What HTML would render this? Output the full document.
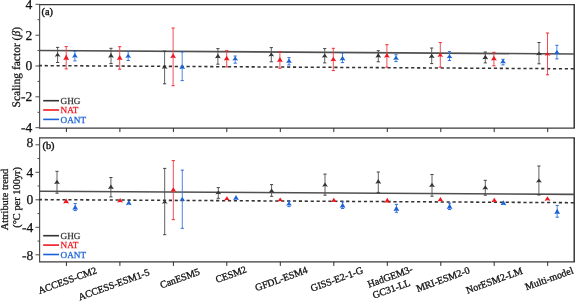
<!DOCTYPE html>
<html><head><meta charset="utf-8"><style>
html,body{margin:0;padding:0;background:#fff;overflow:hidden;}
svg{display:block;will-change:transform;}
text{text-rendering:geometricPrecision;font-family:"Liberation Serif",serif;fill:#111;stroke:#111;stroke-width:0.25px;}
.t{font-size:13.5px;}
.p{font-size:10.3px;stroke-width:0.4px;}
.lg{font-size:9.2px;stroke-width:0.25px;}
.yt{font-size:11.5px;}
.xl{font-size:10px;stroke-width:0.3px;}
.yt2{font-size:10.4px;}
</style></head><body>
<svg width="575" height="301" viewBox="0 0 575 301">
<rect width="575" height="301" fill="#fff"/>
<line x1="39.0" y1="4.6" x2="574.9000000000001" y2="4.6" stroke="#3a3a3a" stroke-width="1.3"/>
<line x1="39.0" y1="128.1" x2="574.9000000000001" y2="128.1" stroke="#3a3a3a" stroke-width="1.3"/>
<line x1="39.6" y1="4.6" x2="39.6" y2="128.1" stroke="#505050" stroke-width="1.2"/>
<line x1="574.2" y1="4.6" x2="574.2" y2="128.1" stroke="#2a2a2a" stroke-width="1.4"/>
<line x1="66.4" y1="128.1" x2="66.4" y2="132.1" stroke="#2a2a2a" stroke-width="1"/>
<line x1="119.9" y1="128.1" x2="119.9" y2="132.1" stroke="#2a2a2a" stroke-width="1"/>
<line x1="173.4" y1="128.1" x2="173.4" y2="132.1" stroke="#2a2a2a" stroke-width="1"/>
<line x1="226.8" y1="128.1" x2="226.8" y2="132.1" stroke="#2a2a2a" stroke-width="1"/>
<line x1="280.3" y1="128.1" x2="280.3" y2="132.1" stroke="#2a2a2a" stroke-width="1"/>
<line x1="333.8" y1="128.1" x2="333.8" y2="132.1" stroke="#2a2a2a" stroke-width="1"/>
<line x1="387.3" y1="128.1" x2="387.3" y2="132.1" stroke="#2a2a2a" stroke-width="1"/>
<line x1="440.8" y1="128.1" x2="440.8" y2="132.1" stroke="#2a2a2a" stroke-width="1"/>
<line x1="494.2" y1="128.1" x2="494.2" y2="132.1" stroke="#2a2a2a" stroke-width="1"/>
<line x1="547.7" y1="128.1" x2="547.7" y2="132.1" stroke="#2a2a2a" stroke-width="1"/>
<line x1="39.0" y1="137.8" x2="574.9000000000001" y2="137.8" stroke="#3a3a3a" stroke-width="1.3"/>
<line x1="39.0" y1="261.9" x2="574.9000000000001" y2="261.9" stroke="#3a3a3a" stroke-width="1.3"/>
<line x1="39.6" y1="137.8" x2="39.6" y2="261.9" stroke="#505050" stroke-width="1.2"/>
<line x1="574.2" y1="137.8" x2="574.2" y2="261.9" stroke="#2a2a2a" stroke-width="1.4"/>
<line x1="66.4" y1="261.9" x2="66.4" y2="265.9" stroke="#2a2a2a" stroke-width="1"/>
<line x1="119.9" y1="261.9" x2="119.9" y2="265.9" stroke="#2a2a2a" stroke-width="1"/>
<line x1="173.4" y1="261.9" x2="173.4" y2="265.9" stroke="#2a2a2a" stroke-width="1"/>
<line x1="226.8" y1="261.9" x2="226.8" y2="265.9" stroke="#2a2a2a" stroke-width="1"/>
<line x1="280.3" y1="261.9" x2="280.3" y2="265.9" stroke="#2a2a2a" stroke-width="1"/>
<line x1="333.8" y1="261.9" x2="333.8" y2="265.9" stroke="#2a2a2a" stroke-width="1"/>
<line x1="387.3" y1="261.9" x2="387.3" y2="265.9" stroke="#2a2a2a" stroke-width="1"/>
<line x1="440.8" y1="261.9" x2="440.8" y2="265.9" stroke="#2a2a2a" stroke-width="1"/>
<line x1="494.2" y1="261.9" x2="494.2" y2="265.9" stroke="#2a2a2a" stroke-width="1"/>
<line x1="547.7" y1="261.9" x2="547.7" y2="265.9" stroke="#2a2a2a" stroke-width="1"/>
<line x1="35.5" y1="4.3" x2="39.6" y2="4.3" stroke="#4d4d4d" stroke-width="1"/>
<line x1="35.5" y1="35.2" x2="39.6" y2="35.2" stroke="#4d4d4d" stroke-width="1"/>
<line x1="35.5" y1="66.0" x2="39.6" y2="66.0" stroke="#4d4d4d" stroke-width="1"/>
<line x1="35.5" y1="96.8" x2="39.6" y2="96.8" stroke="#4d4d4d" stroke-width="1"/>
<line x1="35.5" y1="127.7" x2="39.6" y2="127.7" stroke="#4d4d4d" stroke-width="1"/>
<line x1="37.5" y1="19.7" x2="39.6" y2="19.7" stroke="#4d4d4d" stroke-width="1"/>
<line x1="37.5" y1="50.6" x2="39.6" y2="50.6" stroke="#4d4d4d" stroke-width="1"/>
<line x1="37.5" y1="81.4" x2="39.6" y2="81.4" stroke="#4d4d4d" stroke-width="1"/>
<line x1="37.5" y1="112.3" x2="39.6" y2="112.3" stroke="#4d4d4d" stroke-width="1"/>
<line x1="35.5" y1="144.8" x2="39.6" y2="144.8" stroke="#4d4d4d" stroke-width="1"/>
<line x1="35.5" y1="172.3" x2="39.6" y2="172.3" stroke="#4d4d4d" stroke-width="1"/>
<line x1="35.5" y1="199.8" x2="39.6" y2="199.8" stroke="#4d4d4d" stroke-width="1"/>
<line x1="35.5" y1="227.3" x2="39.6" y2="227.3" stroke="#4d4d4d" stroke-width="1"/>
<line x1="35.5" y1="254.8" x2="39.6" y2="254.8" stroke="#4d4d4d" stroke-width="1"/>
<line x1="37.5" y1="158.5" x2="39.6" y2="158.5" stroke="#4d4d4d" stroke-width="1"/>
<line x1="37.5" y1="186.0" x2="39.6" y2="186.0" stroke="#4d4d4d" stroke-width="1"/>
<line x1="37.5" y1="213.6" x2="39.6" y2="213.6" stroke="#4d4d4d" stroke-width="1"/>
<line x1="37.5" y1="241.1" x2="39.6" y2="241.1" stroke="#4d4d4d" stroke-width="1"/>
<text x="32.3" y="8.6" text-anchor="end" class="t">4</text>
<text x="32.3" y="39.5" text-anchor="end" class="t">2</text>
<text x="32.3" y="70.3" text-anchor="end" class="t">0</text>
<text x="32.3" y="101.1" text-anchor="end" class="t">-2</text>
<text x="32.3" y="132.0" text-anchor="end" class="t">-4</text>
<text x="33.2" y="146.9" text-anchor="end" class="t">8</text>
<text x="33.2" y="176.6" text-anchor="end" class="t">4</text>
<text x="33.2" y="204.1" text-anchor="end" class="t">0</text>
<text x="33.2" y="232.3" text-anchor="end" class="t">-4</text>
<text x="33.2" y="259.7" text-anchor="end" class="t">-8</text>
<line x1="39.6" y1="50.5" x2="574.2" y2="54.0" stroke="#505050" stroke-width="1.6"/>
<line x1="38.8" y1="65.6" x2="574.2" y2="68.8" stroke="#333" stroke-width="1.55" stroke-dasharray="3.2 2.71"/>
<line x1="39.6" y1="191.3" x2="574.2" y2="194.4" stroke="#505050" stroke-width="1.6"/>
<line x1="38.8" y1="199.6" x2="574.2" y2="202.7" stroke="#333" stroke-width="1.55" stroke-dasharray="3.2 2.71"/>
<line x1="57.6" y1="47.4" x2="57.6" y2="62.5" stroke="#505050" stroke-width="0.9"/>
<line x1="56.0" y1="47.4" x2="59.2" y2="47.4" stroke="#333333" stroke-width="0.9"/>
<line x1="56.0" y1="62.5" x2="59.2" y2="62.5" stroke="#333333" stroke-width="0.9"/>
<path d="M57.6 52.5L60.5 56.7L57.6 56.1L54.7 56.7Z" fill="#333333"/>
<line x1="66.2" y1="46.6" x2="66.2" y2="68.9" stroke="#f03a40" stroke-width="0.9"/>
<line x1="64.60000000000001" y1="46.6" x2="67.8" y2="46.6" stroke="#f01820" stroke-width="0.9"/>
<line x1="64.60000000000001" y1="68.9" x2="67.8" y2="68.9" stroke="#f01820" stroke-width="0.9"/>
<path d="M66.2 54.5L69.10000000000001 60.0L66.2 59.4L63.300000000000004 60.0Z" fill="#f01820"/>
<line x1="74.9" y1="51.2" x2="74.9" y2="60.9" stroke="#3a78e0" stroke-width="0.9"/>
<line x1="73.30000000000001" y1="51.2" x2="76.5" y2="51.2" stroke="#1a62d6" stroke-width="0.9"/>
<line x1="73.30000000000001" y1="60.9" x2="76.5" y2="60.9" stroke="#1a62d6" stroke-width="0.9"/>
<path d="M74.9 53.1L77.80000000000001 57.7L74.9 57.1L72.0 57.7Z" fill="#1a62d6"/>
<line x1="111" y1="48.3" x2="111" y2="63.6" stroke="#505050" stroke-width="0.9"/>
<line x1="109.4" y1="48.3" x2="112.6" y2="48.3" stroke="#333333" stroke-width="0.9"/>
<line x1="109.4" y1="63.6" x2="112.6" y2="63.6" stroke="#333333" stroke-width="0.9"/>
<path d="M111 53.1L113.9 57.7L111 57.1L108.1 57.7Z" fill="#333333"/>
<line x1="119.7" y1="46.7" x2="119.7" y2="69.2" stroke="#f03a40" stroke-width="0.9"/>
<line x1="118.10000000000001" y1="46.7" x2="121.3" y2="46.7" stroke="#f01820" stroke-width="0.9"/>
<line x1="118.10000000000001" y1="69.2" x2="121.3" y2="69.2" stroke="#f01820" stroke-width="0.9"/>
<path d="M119.7 55.1L122.60000000000001 60.0L119.7 59.4L116.8 60.0Z" fill="#f01820"/>
<line x1="128.2" y1="51.6" x2="128.2" y2="60.5" stroke="#3a78e0" stroke-width="0.9"/>
<line x1="126.6" y1="51.6" x2="129.79999999999998" y2="51.6" stroke="#1a62d6" stroke-width="0.9"/>
<line x1="126.6" y1="60.5" x2="129.79999999999998" y2="60.5" stroke="#1a62d6" stroke-width="0.9"/>
<path d="M128.2 53.5L131.1 57.9L128.2 57.3L125.29999999999998 57.9Z" fill="#1a62d6"/>
<line x1="164.6" y1="51.1" x2="164.6" y2="83.8" stroke="#505050" stroke-width="0.9"/>
<line x1="163.0" y1="51.1" x2="166.2" y2="51.1" stroke="#333333" stroke-width="0.9"/>
<line x1="163.0" y1="83.8" x2="166.2" y2="83.8" stroke="#333333" stroke-width="0.9"/>
<path d="M164.6 64.7L167.5 68.8L164.6 68.2L161.7 68.8Z" fill="#333333"/>
<line x1="173.1" y1="28" x2="173.1" y2="85.7" stroke="#f03a40" stroke-width="0.9"/>
<line x1="171.5" y1="28" x2="174.7" y2="28" stroke="#f01820" stroke-width="0.9"/>
<line x1="171.5" y1="85.7" x2="174.7" y2="85.7" stroke="#f01820" stroke-width="0.9"/>
<path d="M173.1 53.3L176.0 58.2L173.1 57.6L170.2 58.2Z" fill="#f01820"/>
<line x1="182.2" y1="51.9" x2="182.2" y2="80.6" stroke="#3a78e0" stroke-width="0.9"/>
<line x1="180.6" y1="51.9" x2="183.79999999999998" y2="51.9" stroke="#1a62d6" stroke-width="0.9"/>
<line x1="180.6" y1="80.6" x2="183.79999999999998" y2="80.6" stroke="#1a62d6" stroke-width="0.9"/>
<path d="M182.2 64.2L185.1 69.1L182.2 68.5L179.29999999999998 69.1Z" fill="#1a62d6"/>
<line x1="217.9" y1="48.6" x2="217.9" y2="64.2" stroke="#505050" stroke-width="0.9"/>
<line x1="216.3" y1="48.6" x2="219.5" y2="48.6" stroke="#333333" stroke-width="0.9"/>
<line x1="216.3" y1="64.2" x2="219.5" y2="64.2" stroke="#333333" stroke-width="0.9"/>
<path d="M217.9 53.8L220.8 58.3L217.9 57.7L215.0 58.3Z" fill="#333333"/>
<line x1="226.7" y1="50.7" x2="226.7" y2="66.9" stroke="#f03a40" stroke-width="0.9"/>
<line x1="225.1" y1="50.7" x2="228.29999999999998" y2="50.7" stroke="#f01820" stroke-width="0.9"/>
<line x1="225.1" y1="66.9" x2="228.29999999999998" y2="66.9" stroke="#f01820" stroke-width="0.9"/>
<path d="M226.7 55.8L229.6 60.6L226.7 60.0L223.79999999999998 60.6Z" fill="#f01820"/>
<line x1="235.2" y1="56" x2="235.2" y2="63.2" stroke="#3a78e0" stroke-width="0.9"/>
<line x1="233.6" y1="56" x2="236.79999999999998" y2="56" stroke="#1a62d6" stroke-width="0.9"/>
<line x1="233.6" y1="63.2" x2="236.79999999999998" y2="63.2" stroke="#1a62d6" stroke-width="0.9"/>
<path d="M235.2 56.4L238.1 60.6L235.2 60.0L232.29999999999998 60.6Z" fill="#1a62d6"/>
<line x1="271.3" y1="47.6" x2="271.3" y2="61.8" stroke="#505050" stroke-width="0.9"/>
<line x1="269.7" y1="47.6" x2="272.90000000000003" y2="47.6" stroke="#333333" stroke-width="0.9"/>
<line x1="269.7" y1="61.8" x2="272.90000000000003" y2="61.8" stroke="#333333" stroke-width="0.9"/>
<path d="M271.3 52.4L274.2 56.4L271.3 55.8L268.40000000000003 56.4Z" fill="#333333"/>
<line x1="279.9" y1="51.9" x2="279.9" y2="68.2" stroke="#f03a40" stroke-width="0.9"/>
<line x1="278.29999999999995" y1="51.9" x2="281.5" y2="51.9" stroke="#f01820" stroke-width="0.9"/>
<line x1="278.29999999999995" y1="68.2" x2="281.5" y2="68.2" stroke="#f01820" stroke-width="0.9"/>
<path d="M279.9 57.1L282.79999999999995 62.0L279.9 61.4L277.0 62.0Z" fill="#f01820"/>
<line x1="289" y1="57.6" x2="289" y2="64.9" stroke="#3a78e0" stroke-width="0.9"/>
<line x1="287.4" y1="57.6" x2="290.6" y2="57.6" stroke="#1a62d6" stroke-width="0.9"/>
<line x1="287.4" y1="64.9" x2="290.6" y2="64.9" stroke="#1a62d6" stroke-width="0.9"/>
<path d="M289 58.4L291.9 63.0L289 62.4L286.1 63.0Z" fill="#1a62d6"/>
<line x1="324.7" y1="48.6" x2="324.7" y2="62.9" stroke="#505050" stroke-width="0.9"/>
<line x1="323.09999999999997" y1="48.6" x2="326.3" y2="48.6" stroke="#333333" stroke-width="0.9"/>
<line x1="323.09999999999997" y1="62.9" x2="326.3" y2="62.9" stroke="#333333" stroke-width="0.9"/>
<path d="M324.7 53.4L327.59999999999997 57.7L324.7 57.1L321.8 57.7Z" fill="#333333"/>
<line x1="333.3" y1="48.3" x2="333.3" y2="70.6" stroke="#f03a40" stroke-width="0.9"/>
<line x1="331.7" y1="48.3" x2="334.90000000000003" y2="48.3" stroke="#f01820" stroke-width="0.9"/>
<line x1="331.7" y1="70.6" x2="334.90000000000003" y2="70.6" stroke="#f01820" stroke-width="0.9"/>
<path d="M333.3 56.8L336.2 61.3L333.3 60.7L330.40000000000003 61.3Z" fill="#f01820"/>
<line x1="342.5" y1="52.9" x2="342.5" y2="62.6" stroke="#3a78e0" stroke-width="0.9"/>
<line x1="340.9" y1="52.9" x2="344.1" y2="52.9" stroke="#1a62d6" stroke-width="0.9"/>
<line x1="340.9" y1="62.6" x2="344.1" y2="62.6" stroke="#1a62d6" stroke-width="0.9"/>
<path d="M342.5 55.8L345.4 60.6L342.5 60.0L339.6 60.6Z" fill="#1a62d6"/>
<line x1="378.3" y1="50.7" x2="378.3" y2="61.8" stroke="#505050" stroke-width="0.9"/>
<line x1="376.7" y1="50.7" x2="379.90000000000003" y2="50.7" stroke="#333333" stroke-width="0.9"/>
<line x1="376.7" y1="61.8" x2="379.90000000000003" y2="61.8" stroke="#333333" stroke-width="0.9"/>
<path d="M378.3 53.1L381.2 57.7L378.3 57.1L375.40000000000003 57.7Z" fill="#333333"/>
<line x1="386.9" y1="44.7" x2="386.9" y2="67.2" stroke="#f03a40" stroke-width="0.9"/>
<line x1="385.29999999999995" y1="44.7" x2="388.5" y2="44.7" stroke="#f01820" stroke-width="0.9"/>
<line x1="385.29999999999995" y1="67.2" x2="388.5" y2="67.2" stroke="#f01820" stroke-width="0.9"/>
<path d="M386.9 53.1L389.79999999999995 57.7L386.9 57.1L384.0 57.7Z" fill="#f01820"/>
<line x1="396" y1="54.7" x2="396" y2="61.6" stroke="#3a78e0" stroke-width="0.9"/>
<line x1="394.4" y1="54.7" x2="397.6" y2="54.7" stroke="#1a62d6" stroke-width="0.9"/>
<line x1="394.4" y1="61.6" x2="397.6" y2="61.6" stroke="#1a62d6" stroke-width="0.9"/>
<path d="M396 55.5L398.9 59.9L396 59.3L393.1 59.9Z" fill="#1a62d6"/>
<line x1="431.7" y1="48" x2="431.7" y2="63.6" stroke="#505050" stroke-width="0.9"/>
<line x1="430.09999999999997" y1="48" x2="433.3" y2="48" stroke="#333333" stroke-width="0.9"/>
<line x1="430.09999999999997" y1="63.6" x2="433.3" y2="63.6" stroke="#333333" stroke-width="0.9"/>
<path d="M431.7 53.8L434.59999999999997 58.0L431.7 57.4L428.8 58.0Z" fill="#333333"/>
<line x1="440.3" y1="42.6" x2="440.3" y2="67.2" stroke="#f03a40" stroke-width="0.9"/>
<line x1="438.7" y1="42.6" x2="441.90000000000003" y2="42.6" stroke="#f01820" stroke-width="0.9"/>
<line x1="438.7" y1="67.2" x2="441.90000000000003" y2="67.2" stroke="#f01820" stroke-width="0.9"/>
<path d="M440.3 52.8L443.2 56.9L440.3 56.3L437.40000000000003 56.9Z" fill="#f01820"/>
<line x1="449.5" y1="51.6" x2="449.5" y2="60.5" stroke="#3a78e0" stroke-width="0.9"/>
<line x1="447.9" y1="51.6" x2="451.1" y2="51.6" stroke="#1a62d6" stroke-width="0.9"/>
<line x1="447.9" y1="60.5" x2="451.1" y2="60.5" stroke="#1a62d6" stroke-width="0.9"/>
<path d="M449.5 54.2L452.4 58.3L449.5 57.7L446.6 58.3Z" fill="#1a62d6"/>
<line x1="485.3" y1="52" x2="485.3" y2="62.9" stroke="#505050" stroke-width="0.9"/>
<line x1="483.7" y1="52" x2="486.90000000000003" y2="52" stroke="#333333" stroke-width="0.9"/>
<line x1="483.7" y1="62.9" x2="486.90000000000003" y2="62.9" stroke="#333333" stroke-width="0.9"/>
<path d="M485.3 54.8L488.2 59.3L485.3 58.7L482.40000000000003 59.3Z" fill="#333333"/>
<line x1="493.9" y1="52.3" x2="493.9" y2="65.8" stroke="#f03a40" stroke-width="0.9"/>
<line x1="492.29999999999995" y1="52.3" x2="495.5" y2="52.3" stroke="#f01820" stroke-width="0.9"/>
<line x1="492.29999999999995" y1="65.8" x2="495.5" y2="65.8" stroke="#f01820" stroke-width="0.9"/>
<path d="M493.9 55.8L496.79999999999995 60.6L493.9 60.0L491.0 60.6Z" fill="#f01820"/>
<line x1="503" y1="59.3" x2="503" y2="64.9" stroke="#3a78e0" stroke-width="0.9"/>
<line x1="501.4" y1="59.3" x2="504.6" y2="59.3" stroke="#1a62d6" stroke-width="0.9"/>
<line x1="501.4" y1="64.9" x2="504.6" y2="64.9" stroke="#1a62d6" stroke-width="0.9"/>
<path d="M503 59.0L505.9 63.4L503 62.8L500.1 63.4Z" fill="#1a62d6"/>
<line x1="539" y1="42.5" x2="539" y2="63.8" stroke="#505050" stroke-width="0.9"/>
<line x1="537.4" y1="42.5" x2="540.6" y2="42.5" stroke="#333333" stroke-width="0.9"/>
<line x1="537.4" y1="63.8" x2="540.6" y2="63.8" stroke="#333333" stroke-width="0.9"/>
<path d="M539 51.4L541.9 55.3L539 54.7L536.1 55.3Z" fill="#333333"/>
<line x1="547.5" y1="33" x2="547.5" y2="74.8" stroke="#f03a40" stroke-width="0.9"/>
<line x1="545.9" y1="33" x2="549.1" y2="33" stroke="#f01820" stroke-width="0.9"/>
<line x1="545.9" y1="74.8" x2="549.1" y2="74.8" stroke="#f01820" stroke-width="0.9"/>
<path d="M547.5 52.0L550.4 55.7L547.5 55.1L544.6 55.7Z" fill="#f01820"/>
<line x1="556.9" y1="45.3" x2="556.9" y2="58.9" stroke="#3a78e0" stroke-width="0.9"/>
<line x1="555.3" y1="45.3" x2="558.5" y2="45.3" stroke="#1a62d6" stroke-width="0.9"/>
<line x1="555.3" y1="58.9" x2="558.5" y2="58.9" stroke="#1a62d6" stroke-width="0.9"/>
<path d="M556.9 50.0L559.8 54.3L556.9 53.7L554.0 54.3Z" fill="#1a62d6"/>
<line x1="57" y1="171.3" x2="57" y2="193.2" stroke="#505050" stroke-width="0.9"/>
<line x1="55.4" y1="171.3" x2="58.6" y2="171.3" stroke="#333333" stroke-width="0.9"/>
<line x1="55.4" y1="193.2" x2="58.6" y2="193.2" stroke="#333333" stroke-width="0.9"/>
<path d="M57 179.8L59.9 184.0L57 183.4L54.1 184.0Z" fill="#333333"/>
<path d="M66.1 198.2L69.0 203.5L66.1 202.9L63.199999999999996 203.5Z" fill="#f01820"/>
<line x1="75.2" y1="203.5" x2="75.2" y2="210.6" stroke="#3a78e0" stroke-width="0.9"/>
<line x1="73.60000000000001" y1="203.5" x2="76.8" y2="203.5" stroke="#1a62d6" stroke-width="0.9"/>
<line x1="73.60000000000001" y1="210.6" x2="76.8" y2="210.6" stroke="#1a62d6" stroke-width="0.9"/>
<path d="M75.2 204.8L78.10000000000001 209.8L75.2 209.2L72.3 209.8Z" fill="#1a62d6"/>
<line x1="110.9" y1="177.5" x2="110.9" y2="196.9" stroke="#505050" stroke-width="0.9"/>
<line x1="109.30000000000001" y1="177.5" x2="112.5" y2="177.5" stroke="#333333" stroke-width="0.9"/>
<line x1="109.30000000000001" y1="196.9" x2="112.5" y2="196.9" stroke="#333333" stroke-width="0.9"/>
<path d="M110.9 184.4L113.80000000000001 189.1L110.9 188.5L108.0 189.1Z" fill="#333333"/>
<path d="M120.1 197.9L123.0 202.5L120.1 201.9L117.19999999999999 202.5Z" fill="#f01820"/>
<path d="M128.8 200.1L131.70000000000002 205.2L128.8 204.6L125.9 205.2Z" fill="#1a62d6"/>
<line x1="164.7" y1="168.4" x2="164.7" y2="234.7" stroke="#505050" stroke-width="0.9"/>
<line x1="163.1" y1="168.4" x2="166.29999999999998" y2="168.4" stroke="#333333" stroke-width="0.9"/>
<line x1="163.1" y1="234.7" x2="166.29999999999998" y2="234.7" stroke="#333333" stroke-width="0.9"/>
<path d="M164.7 200.0L167.6 203.7L164.7 203.1L161.79999999999998 203.7Z" fill="#333333"/>
<line x1="173.3" y1="160.6" x2="173.3" y2="219.7" stroke="#f03a40" stroke-width="0.9"/>
<line x1="171.70000000000002" y1="160.6" x2="174.9" y2="160.6" stroke="#f01820" stroke-width="0.9"/>
<line x1="171.70000000000002" y1="219.7" x2="174.9" y2="219.7" stroke="#f01820" stroke-width="0.9"/>
<path d="M173.3 187.2L176.20000000000002 191.8L173.3 191.2L170.4 191.8Z" fill="#f01820"/>
<line x1="182.3" y1="170.1" x2="182.3" y2="228.3" stroke="#3a78e0" stroke-width="0.9"/>
<line x1="180.70000000000002" y1="170.1" x2="183.9" y2="170.1" stroke="#1a62d6" stroke-width="0.9"/>
<line x1="180.70000000000002" y1="228.3" x2="183.9" y2="228.3" stroke="#1a62d6" stroke-width="0.9"/>
<path d="M182.3 196.9L185.20000000000002 200.9L182.3 200.3L179.4 200.9Z" fill="#1a62d6"/>
<line x1="218.3" y1="187.6" x2="218.3" y2="198.3" stroke="#505050" stroke-width="0.9"/>
<line x1="216.70000000000002" y1="187.6" x2="219.9" y2="187.6" stroke="#333333" stroke-width="0.9"/>
<line x1="216.70000000000002" y1="198.3" x2="219.9" y2="198.3" stroke="#333333" stroke-width="0.9"/>
<path d="M218.3 190.5L221.20000000000002 194.3L218.3 193.7L215.4 194.3Z" fill="#333333"/>
<path d="M226.9 196.2L229.8 200.6L226.9 200.0L224.0 200.6Z" fill="#f01820"/>
<path d="M236 195.1L238.9 200.0L236 199.4L233.1 200.0Z" fill="#1a62d6"/>
<line x1="271.6" y1="184.6" x2="271.6" y2="196.3" stroke="#505050" stroke-width="0.9"/>
<line x1="270.0" y1="184.6" x2="273.20000000000005" y2="184.6" stroke="#333333" stroke-width="0.9"/>
<line x1="270.0" y1="196.3" x2="273.20000000000005" y2="196.3" stroke="#333333" stroke-width="0.9"/>
<path d="M271.6 188.5L274.5 192.7L271.6 192.1L268.70000000000005 192.7Z" fill="#333333"/>
<path d="M280.2 197.4L283.09999999999997 201.7L280.2 201.1L277.3 201.7Z" fill="#f01820"/>
<line x1="289" y1="201.3" x2="289" y2="206.6" stroke="#3a78e0" stroke-width="0.9"/>
<line x1="287.4" y1="201.3" x2="290.6" y2="201.3" stroke="#1a62d6" stroke-width="0.9"/>
<line x1="287.4" y1="206.6" x2="290.6" y2="206.6" stroke="#1a62d6" stroke-width="0.9"/>
<path d="M289 201.5L291.9 205.7L289 205.1L286.1 205.7Z" fill="#1a62d6"/>
<line x1="325" y1="174.1" x2="325" y2="195.2" stroke="#505050" stroke-width="0.9"/>
<line x1="323.4" y1="174.1" x2="326.6" y2="174.1" stroke="#333333" stroke-width="0.9"/>
<line x1="323.4" y1="195.2" x2="326.6" y2="195.2" stroke="#333333" stroke-width="0.9"/>
<path d="M325 182.4L327.9 186.7L325 186.1L322.1 186.7Z" fill="#333333"/>
<path d="M333.8 197.7L336.7 202.3L333.8 201.7L330.90000000000003 202.3Z" fill="#f01820"/>
<line x1="342.6" y1="201.9" x2="342.6" y2="208.5" stroke="#3a78e0" stroke-width="0.9"/>
<line x1="341.0" y1="201.9" x2="344.20000000000005" y2="201.9" stroke="#1a62d6" stroke-width="0.9"/>
<line x1="341.0" y1="208.5" x2="344.20000000000005" y2="208.5" stroke="#1a62d6" stroke-width="0.9"/>
<path d="M342.6 202.7L345.5 207.8L342.6 207.2L339.70000000000005 207.8Z" fill="#1a62d6"/>
<line x1="378.3" y1="172" x2="378.3" y2="192.4" stroke="#505050" stroke-width="0.9"/>
<line x1="376.7" y1="172" x2="379.90000000000003" y2="172" stroke="#333333" stroke-width="0.9"/>
<line x1="376.7" y1="192.4" x2="379.90000000000003" y2="192.4" stroke="#333333" stroke-width="0.9"/>
<path d="M378.3 179.1L381.2 183.7L378.3 183.1L375.40000000000003 183.7Z" fill="#333333"/>
<path d="M387.3 197.7L390.2 202.8L387.3 202.2L384.40000000000003 202.8Z" fill="#f01820"/>
<line x1="396.4" y1="204.4" x2="396.4" y2="212.3" stroke="#3a78e0" stroke-width="0.9"/>
<line x1="394.79999999999995" y1="204.4" x2="398.0" y2="204.4" stroke="#1a62d6" stroke-width="0.9"/>
<line x1="394.79999999999995" y1="212.3" x2="398.0" y2="212.3" stroke="#1a62d6" stroke-width="0.9"/>
<path d="M396.4 205.7L399.29999999999995 211.1L396.4 210.5L393.5 211.1Z" fill="#1a62d6"/>
<line x1="432" y1="174.5" x2="432" y2="196.2" stroke="#505050" stroke-width="0.9"/>
<line x1="430.4" y1="174.5" x2="433.6" y2="174.5" stroke="#333333" stroke-width="0.9"/>
<line x1="430.4" y1="196.2" x2="433.6" y2="196.2" stroke="#333333" stroke-width="0.9"/>
<path d="M432 182.8L434.9 187.0L432 186.4L429.1 187.0Z" fill="#333333"/>
<path d="M440.4 197.1L443.29999999999995 201.6L440.4 201.0L437.5 201.6Z" fill="#f01820"/>
<line x1="449.6" y1="203.2" x2="449.6" y2="209.5" stroke="#3a78e0" stroke-width="0.9"/>
<line x1="448.0" y1="203.2" x2="451.20000000000005" y2="203.2" stroke="#1a62d6" stroke-width="0.9"/>
<line x1="448.0" y1="209.5" x2="451.20000000000005" y2="209.5" stroke="#1a62d6" stroke-width="0.9"/>
<path d="M449.6 203.5L452.5 208.9L449.6 208.3L446.70000000000005 208.9Z" fill="#1a62d6"/>
<line x1="485.3" y1="180.3" x2="485.3" y2="195.2" stroke="#505050" stroke-width="0.9"/>
<line x1="483.7" y1="180.3" x2="486.90000000000003" y2="180.3" stroke="#333333" stroke-width="0.9"/>
<line x1="483.7" y1="195.2" x2="486.90000000000003" y2="195.2" stroke="#333333" stroke-width="0.9"/>
<path d="M485.3 185.3L488.2 189.5L485.3 188.9L482.40000000000003 189.5Z" fill="#333333"/>
<path d="M494.3 197.7L497.2 202.3L494.3 201.7L491.40000000000003 202.3Z" fill="#f01820"/>
<path d="M503.4 200.2L506.29999999999995 205.3L503.4 204.7L500.5 205.3Z" fill="#1a62d6"/>
<line x1="538.9" y1="166" x2="538.9" y2="195" stroke="#505050" stroke-width="0.9"/>
<line x1="537.3" y1="166" x2="540.5" y2="166" stroke="#333333" stroke-width="0.9"/>
<line x1="537.3" y1="195" x2="540.5" y2="195" stroke="#333333" stroke-width="0.9"/>
<path d="M538.9 178.5L541.8 182.6L538.9 182.0L536.0 182.6Z" fill="#333333"/>
<path d="M547.5 196.2L550.4 200.8L547.5 200.2L544.6 200.8Z" fill="#f01820"/>
<line x1="557.2" y1="205.4" x2="557.2" y2="217.2" stroke="#3a78e0" stroke-width="0.9"/>
<line x1="555.6" y1="205.4" x2="558.8000000000001" y2="205.4" stroke="#1a62d6" stroke-width="0.9"/>
<line x1="555.6" y1="217.2" x2="558.8000000000001" y2="217.2" stroke="#1a62d6" stroke-width="0.9"/>
<path d="M557.2 208.7L560.1 214.0L557.2 213.4L554.3000000000001 214.0Z" fill="#1a62d6"/>
<text x="41.6" y="14.8" class="p">(a)</text>
<text x="42.5" y="149.3" class="p">(b)</text>
<line x1="43.2" y1="100.7" x2="59" y2="100.7" stroke="#333333" stroke-width="1.6"/>
<text x="60.6" y="103.8" class="lg" style="fill:#333333;stroke:#333333">GHG</text>
<line x1="43.2" y1="110.0" x2="59" y2="110.0" stroke="#f01820" stroke-width="1.6"/>
<text x="60.6" y="113.1" class="lg" style="fill:#f01820;stroke:#f01820">NAT</text>
<line x1="43.2" y1="119.4" x2="59" y2="119.4" stroke="#1a62d6" stroke-width="1.6"/>
<text x="60.6" y="122.5" class="lg" style="fill:#1a62d6;stroke:#1a62d6">OANT</text>
<line x1="43.2" y1="235.7" x2="59" y2="235.7" stroke="#333333" stroke-width="1.6"/>
<text x="60.6" y="238.8" class="lg" style="fill:#333333;stroke:#333333">GHG</text>
<line x1="43.2" y1="245.1" x2="59" y2="245.1" stroke="#f01820" stroke-width="1.6"/>
<text x="60.6" y="248.2" class="lg" style="fill:#f01820;stroke:#f01820">NAT</text>
<line x1="43.2" y1="254.5" x2="59" y2="254.5" stroke="#1a62d6" stroke-width="1.6"/>
<text x="60.6" y="257.6" class="lg" style="fill:#1a62d6;stroke:#1a62d6">OANT</text>
<text transform="translate(20.3,67.2) rotate(-90)" text-anchor="middle" class="yt">Scaling factor (<tspan font-style="italic">β</tspan>)</text>
<text transform="translate(8.2,199.5) rotate(-90)" text-anchor="middle" class="yt2">Attribute trend</text>
<text transform="translate(19.8,197.4) rotate(-90)" text-anchor="middle" class="yt2">(°C per 100yr)</text>
<text transform="translate(39.4,294.1) rotate(-20)" class="xl">ACCESS-CM2</text>
<text transform="translate(79.7,300.5) rotate(-20)" class="xl">ACCESS-ESM1-5</text>
<text transform="translate(161.4,288.5) rotate(-20)" class="xl">CanESM5</text>
<text transform="translate(216.9,283.0) rotate(-20)" class="xl">CESM2</text>
<text transform="translate(256.6,291.3) rotate(-20)" class="xl">GFDL-ESM4</text>
<text transform="translate(312.1,291.7) rotate(-20)" class="xl">GISS-E2-1-G</text>
<text transform="translate(369.0,287.8) rotate(-20)" class="xl">HadGEM3-</text>
<text transform="translate(374.0,298.8) rotate(-20)" class="xl">GC31-LL</text>
<text transform="translate(417.7,292.0) rotate(-20)" class="xl">MRI-ESM2-0</text>
<text transform="translate(467.5,293.7) rotate(-20)" class="xl">NorESM2-LM</text>
<text transform="translate(526.6,290.3) rotate(-20)" class="xl">Multi-model</text>
</svg>
</body></html>
